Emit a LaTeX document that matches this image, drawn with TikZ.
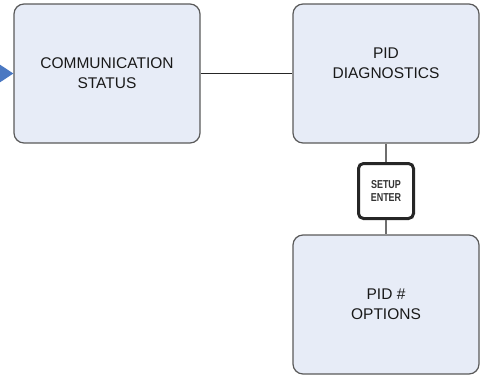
\documentclass[tikz,border=0pt]{standalone}
\usepackage{fontspec}
\setmainfont{Liberation Sans}
\newfontfamily\keyfont[FakeStretch=0.78]{Liberation Sans}
\usetikzlibrary{positioning}
\usetikzlibrary{arrows.meta}
\definecolor{PIDboxblue}{HTML}{E7ECF7}
\definecolor{PIDboxgrey}{HTML}{5A5A5A}
\definecolor{PIDlinegrey}{HTML}{6E6E6E}
\definecolor{PIDarrowblue}{HTML}{4A78C2}
\definecolor{PIDkeygrey}{HTML}{333333}

\begin{document}
\begin{tikzpicture}[x=1pt,y=-1pt,
  menubox/.style={draw=PIDboxgrey, line width=1.2pt, fill=PIDboxblue, rounded corners=10pt,
    minimum width=186pt, minimum height=139pt, align=center, inner sep=0pt,
    font=\fontsize{15.5}{20}\selectfont, text=black!90},
  keybox/.style={draw=black!85, line width=3pt, fill=white, rounded corners=5pt,
    minimum size=55pt, align=center, inner sep=0pt,
    font=\keyfont\bfseries\fontsize{11.5}{13.5}\selectfont, text=PIDkeygrey}]

\useasboundingbox (0,0) rectangle (491,381);

% Menu screens
\node[menubox] (comm) at (107,73.5) {COMMUNICATION\\STATUS};
\node[menubox] (diag) at (386,73.5) {PID\\DIAGNOSTICS\\~};
\node[menubox] (opts) at (386,304.5) {PID \#\\OPTIONS};

% Key
\node[keybox] (key) at (386,191) {SETUP\\ENTER};

% Links
\coordinate (entry) at (-12,73.5);
\draw[PIDarrowblue, line width=1.5pt, -{Triangle[length=17pt,width=22pt]}] (entry) -- (comm.west);
\draw[black!85, line width=1pt] (comm) -- (diag);
\draw[PIDlinegrey, line width=1.6pt] (diag) -- (key);
\draw[PIDlinegrey, line width=1.6pt] (key) -- (opts);

\end{tikzpicture}
\end{document}
